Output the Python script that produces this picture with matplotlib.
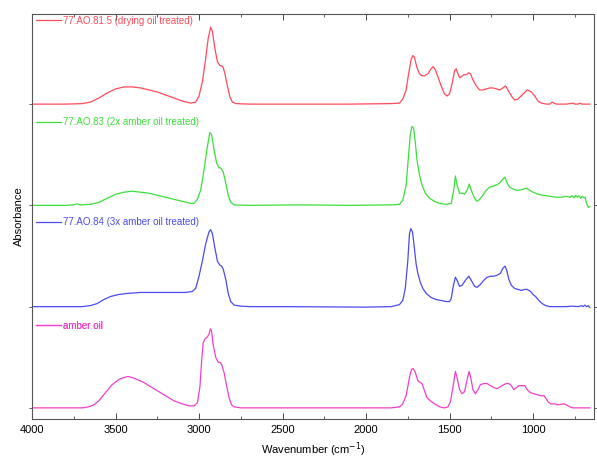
import matplotlib
matplotlib.use("Agg")
import matplotlib.pyplot as plt
from matplotlib.lines import Line2D
from matplotlib.ticker import MultipleLocator

plt.rcParams['font.family'] = ['Liberation Sans', 'DejaVu Sans']

# ---- data (wavenumber, absorbance) ----
red_wn = [4000, 3800, 3700, 3650, 3600, 3550, 3500, 3450, 3400, 3350, 3300, 3250, 3200, 3150, 3100,
          3050, 3020, 3000, 2980, 2960, 2945, 2930, 2920, 2905, 2890, 2875, 2865, 2855, 2845, 2830,
          2815, 2800, 2780, 2700, 2400, 2100, 1850, 1800, 1780, 1760, 1745, 1730, 1720, 1710, 1695,
          1680, 1665, 1650, 1630, 1610, 1598, 1585, 1570, 1550, 1530, 1515, 1500, 1485, 1470, 1460,
          1450, 1440, 1430, 1415, 1400, 1385, 1375, 1360, 1340, 1320, 1300, 1280, 1260, 1240, 1220,
          1200, 1180, 1165, 1150, 1130, 1110, 1090, 1060, 1035, 1010, 990, 970, 950, 920, 900,
          885, 875, 860, 800, 760, 750, 730, 720, 705, 660]
red_ab = [0.0, 0.0, 0.005, 0.02, 0.06, 0.11, 0.15, 0.17, 0.17, 0.16, 0.14, 0.12, 0.09, 0.06, 0.03,
          0.01, 0.02, 0.08, 0.22, 0.45, 0.65, 0.76, 0.72, 0.55, 0.42, 0.38, 0.38, 0.36, 0.3, 0.18,
          0.07, 0.02, 0.005, 0.0, 0.0, 0.0, 0.005, 0.01, 0.05, 0.14, 0.3, 0.44, 0.48, 0.46, 0.36,
          0.3, 0.28, 0.28, 0.3, 0.35, 0.37, 0.34, 0.27, 0.18, 0.1, 0.08, 0.1, 0.2, 0.33, 0.35,
          0.3, 0.26, 0.27, 0.29, 0.29, 0.31, 0.3, 0.24, 0.18, 0.14, 0.14, 0.15, 0.16, 0.16, 0.15,
          0.14, 0.16, 0.18, 0.14, 0.08, 0.04, 0.05, 0.1, 0.14, 0.12, 0.08, 0.03, 0.01, 0.0, 0.0,
          0.02, 0.01, 0.0, 0.0, 0.01, 0.0, 0.0, 0.01, 0.0, 0.0]

green_wn = [4000, 3800, 3750, 3730, 3710, 3650, 3600, 3550, 3500, 3450, 3400, 3350, 3300, 3250, 3200,
            3150, 3100, 3050, 3030, 3010, 2990, 2970, 2950, 2935, 2925, 2910, 2895, 2880, 2870, 2855,
            2840, 2825, 2810, 2790, 2700, 2400, 2100, 1850, 1800, 1780, 1760, 1745, 1735, 1725, 1715,
            1705, 1695, 1680, 1665, 1645, 1620, 1590, 1560, 1520, 1490, 1475, 1465, 1455, 1440, 1425,
            1410, 1395, 1382, 1370, 1350, 1335, 1320, 1300, 1280, 1260, 1240, 1220, 1200, 1180, 1168,
            1155, 1140, 1120, 1100, 1080, 1060, 1040, 1020, 1000, 970, 940, 900, 860, 830, 800,
            780, 765, 755, 745, 735, 725, 715, 705, 695, 688, 680, 670, 660]
green_ab = [0.0, 0.0, 0.005, 0.015, 0.005, 0.01, 0.03, 0.07, 0.11, 0.13, 0.14, 0.13, 0.12, 0.1, 0.08,
            0.06, 0.04, 0.02, 0.02, 0.06, 0.15, 0.35, 0.58, 0.72, 0.7, 0.55, 0.42, 0.37, 0.37, 0.33,
            0.22, 0.1, 0.03, 0.005, 0.0, 0.005, 0.0, 0.005, 0.01, 0.05, 0.2, 0.5, 0.7, 0.78, 0.76,
            0.62, 0.45, 0.3, 0.2, 0.12, 0.07, 0.04, 0.02, 0.01, 0.02, 0.15, 0.29, 0.2, 0.12, 0.12,
            0.11, 0.15, 0.21, 0.15, 0.07, 0.04, 0.06, 0.1, 0.15, 0.18, 0.19, 0.2, 0.22, 0.26, 0.28,
            0.22, 0.18, 0.16, 0.15, 0.15, 0.16, 0.17, 0.15, 0.13, 0.11, 0.1, 0.09, 0.08, 0.08, 0.09,
            0.08, 0.095, 0.075, 0.1, 0.08, 0.095, 0.07, 0.09, 0.075, 0.08, 0.02, -0.02, -0.01]

blue_wn = [4000, 3700, 3650, 3610, 3570, 3530, 3480, 3430, 3350, 3250, 3150, 3080, 3040, 3020, 3000,
           2980, 2960, 2940, 2930, 2920, 2905, 2890, 2875, 2865, 2855, 2840, 2825, 2810, 2790, 2750,
           2700, 2500, 2000, 1850, 1800, 1780, 1765, 1750, 1740, 1732, 1722, 1712, 1700, 1690, 1675,
           1660, 1640, 1610, 1580, 1550, 1520, 1500, 1490, 1478, 1465, 1455, 1440, 1425, 1405, 1385,
           1370, 1350, 1335, 1315, 1295, 1275, 1255, 1235, 1215, 1195, 1180, 1168, 1158, 1145, 1130,
           1110, 1090, 1070, 1050, 1035, 1015, 1000, 985, 965, 945, 925, 900, 850, 800, 770,
           730, 710, 700, 690, 680, 670, 660]
blue_ab = [0.0, 0.0, 0.01, 0.03, 0.07, 0.1, 0.12, 0.13, 0.14, 0.14, 0.14, 0.14, 0.15, 0.18, 0.3,
           0.45, 0.62, 0.74, 0.76, 0.72, 0.58, 0.45, 0.41, 0.4, 0.37, 0.27, 0.13, 0.05, 0.015, 0.005,
           0.0, 0.0, -0.005, 0.0, 0.02, 0.06, 0.18, 0.45, 0.72, 0.77, 0.74, 0.6, 0.42, 0.33, 0.24,
           0.18, 0.13, 0.09, 0.07, 0.06, 0.05, 0.05, 0.08, 0.2, 0.29, 0.26, 0.2, 0.21, 0.26, 0.3,
           0.26, 0.2, 0.19, 0.22, 0.26, 0.29, 0.3, 0.3, 0.31, 0.33, 0.38, 0.4, 0.36, 0.27, 0.21,
           0.18, 0.17, 0.16, 0.17, 0.17, 0.15, 0.12, 0.1, 0.06, 0.03, 0.01, 0.0, 0.0, 0.0, 0.005,
           0.0, 0.01, 0.0, 0.015, 0.0, 0.01, -0.01]

mag_wn = [4000, 3700, 3660, 3630, 3600, 3560, 3520, 3480, 3450, 3425, 3400, 3370, 3330, 3290, 3250,
          3200, 3150, 3100, 3060, 3030, 3010, 2995, 2985, 2975, 2965, 2950, 2940, 2932, 2925, 2915,
          2900, 2885, 2875, 2865, 2850, 2835, 2820, 2805, 2790, 2750, 2400, 2000, 1850, 1800, 1780,
          1760, 1740, 1728, 1718, 1705, 1690, 1675, 1665, 1650, 1635, 1615, 1590, 1560, 1530, 1510,
          1495, 1480, 1465, 1455, 1440, 1425, 1410, 1395, 1383, 1372, 1360, 1345, 1330, 1315, 1295,
          1275, 1255, 1235, 1215, 1195, 1175, 1160, 1145, 1130, 1115, 1100, 1085, 1065, 1050, 1035,
          1015, 995, 975, 955, 935, 925, 910, 895, 870, 850, 835, 815, 800, 780, 760,
          730, 700, 660]
mag_ab = [0.0, 0.0, 0.01, 0.03, 0.07, 0.15, 0.23, 0.28, 0.3, 0.31, 0.3, 0.28, 0.25, 0.21, 0.17,
          0.12, 0.07, 0.04, 0.02, 0.02, 0.05, 0.2, 0.45, 0.64, 0.68, 0.7, 0.73, 0.78, 0.76, 0.62,
          0.5, 0.45, 0.45, 0.43, 0.35, 0.22, 0.1, 0.03, 0.01, 0.0, 0.0, 0.0, 0.0, 0.01, 0.04,
          0.12, 0.3, 0.38, 0.39, 0.35, 0.27, 0.25, 0.24, 0.17, 0.1, 0.07, 0.04, 0.01, 0.0, 0.01,
          0.06, 0.2, 0.36, 0.3, 0.18, 0.14, 0.16, 0.28, 0.36, 0.29, 0.18, 0.14, 0.18, 0.23, 0.24,
          0.24, 0.22, 0.2, 0.19, 0.21, 0.23, 0.24, 0.24, 0.22, 0.18, 0.2, 0.22, 0.22, 0.22, 0.18,
          0.15, 0.14, 0.13, 0.12, 0.12, 0.1, 0.06, 0.04, 0.04, 0.03, 0.035, 0.04, 0.03, 0.01, 0.0,
          0.0, 0.0, 0.0]

labels = ["77.AO.81.5 (drying oil treated)", "77.AO.83 (2x amber oil treated)",
          "77.AO.84 (3x amber oil treated)", "amber oil"]
offsets = [3, 2, 1, 0]
colors = ["#FF4A5A", "#3ADF3A", "#4A4AF0", "#F040C8"]
series = [(red_wn, red_ab), (green_wn, green_ab), (blue_wn, blue_ab), (mag_wn, mag_ab)]
legend_y = [0.983, 0.733, 0.486, 0.230]

fig = plt.figure(figsize=(5.97, 4.59), dpi=100)
ax = fig.add_axes([0.0536, 0.0871, 0.9414, 0.8824])

for (wn, ab), off, c, lab, ly in zip(series, offsets, colors, labels, legend_y):
    ax.plot(wn, [a + off for a in ab], color=c, lw=0.9)
    h = Line2D([], [], color=c, lw=0.9)
    leg = ax.legend([h], [lab], loc='center left', bbox_to_anchor=(0.008, ly),
                    frameon=False, fontsize=7, handlelength=2.5, handletextpad=0.25,
                    borderpad=0, borderaxespad=0, labelcolor=c)
    ax.add_artist(leg)

ax.set_xlim(4000, 635)
ax.set_ylim(-0.11, 3.89)
ax.xaxis.set_major_locator(MultipleLocator(500))
ax.xaxis.set_minor_locator(MultipleLocator(250))
ax.set_yticks(offsets)
ax.set_yticklabels([])
ax.tick_params(axis='x', which='both', direction='in', top=True, labelsize=8, colors='#444444',
               labelcolor='black', pad=4)
ax.tick_params(axis='x', which='major', length=4, width=0.7)
ax.tick_params(axis='x', which='minor', length=2, width=0.6)
ax.tick_params(axis='y', which='both', direction='out', right=True, length=2.5, width=0.6,
               colors='#444444')
for s in ax.spines.values():
    s.set_color('#555555')
    s.set_linewidth(0.8)

ax.set_xlabel("Wavenumber (cm$^{-1}$)", fontsize=8, labelpad=4)
ax.set_ylabel("Absorbance", fontsize=8, labelpad=0)

fig.savefig("out.png", dpi=100)
